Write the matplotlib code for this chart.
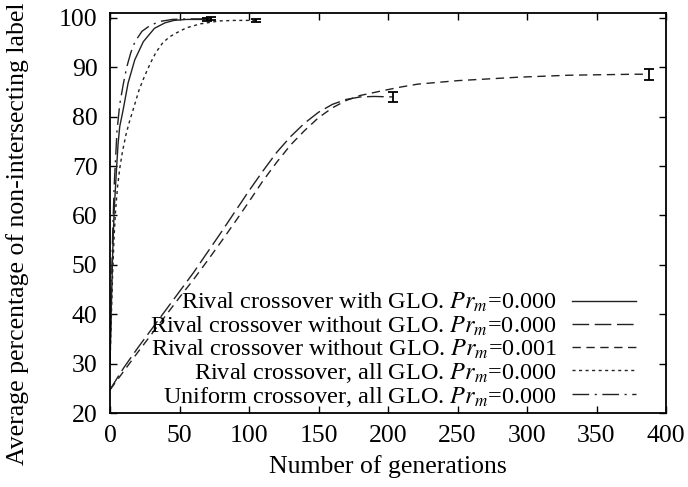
import numpy as np
import matplotlib.pyplot as plt

plt.rcParams['font.family'] = ['Liberation Serif', 'DejaVu Serif']
plt.rcParams['mathtext.fontset'] = 'stix'

# Rival crossover with GLO, Pr_m = 0.000
gen_rival_glo = [0, 1, 2, 3, 4.6, 5.8, 7, 9.4, 13, 17.8, 24, 32, 39.5, 46, 55, 70]
pct_rival_glo = [30, 42, 53, 61, 69, 74.5, 78, 81.3, 86.8, 91.5, 95.2, 97.9, 99, 99.5, 99.7, 99.7]

# Rival crossover without GLO, Pr_m = 0.000
gen_rival_noglo = [0, 5, 10, 20, 30, 40, 50, 60, 70, 80, 90, 100, 110, 120, 130, 140,
                   150, 160, 170, 180, 190, 203.5]
pct_rival_noglo = [24.7, 27, 29.2, 33.2, 37, 40.8, 44.6, 48.4, 52.5, 56.6, 60.8, 65, 69,
                   72.8, 76, 78.7, 80.9, 82.5, 83.5, 84, 84.1, 84]

# Rival crossover without GLO, Pr_m = 0.001
gen_rival_noglo_mut = [0, 10, 20, 30, 40, 50, 60, 70, 80, 90, 100, 110, 120, 130, 140,
                       150, 160, 170, 180, 195, 209, 221.6, 250, 294, 330, 377.6, 387.7]
pct_rival_noglo_mut = [24.7, 28.5, 32.3, 36, 39.7, 43.4, 47, 50.8, 54.7, 58.7, 62.8, 67,
                       70.8, 74.3, 77.2, 79.8, 81.8, 83.3, 84.3, 85.2, 86, 86.6, 87.3,
                       88, 88.4, 88.6, 88.6]

# Rival crossover, all GLO, Pr_m = 0.000
gen_rival_all = [0, 1, 2, 3, 4, 5.5, 7, 9, 11.6, 14, 17.8, 21, 25, 29, 33, 38, 43, 48,
                 55, 65, 79, 90, 105]
pct_rival_all = [30, 40, 49, 56, 61, 66, 69.5, 73, 76.5, 79, 82.5, 85.5, 88.3, 90.8, 93,
                 95, 96.2, 97, 98, 98.8, 99.4, 99.5, 99.5]

# Uniform crossover, all GLO, Pr_m = 0.000
gen_uniform = [0, 1, 2, 3, 5, 7, 9.5, 12, 15, 18, 23, 29, 36, 45, 55, 73]
pct_uniform = [30, 45, 57, 66, 77, 82.5, 86.5, 90, 93, 95.2, 97.3, 98.5, 99.3, 99.7, 99.8, 99.8]

# error bars at the last generation of each run
err_rival_glo = 0.3
err_rival_noglo = 1.1
err_rival_noglo_mut = 1.15
err_rival_all = 0.3
err_uniform = 0.3

labels = [
    'Rival crossover with GLO. $Pr_m$=0.000',
    'Rival crossover without GLO. $Pr_m$=0.000',
    'Rival crossover without GLO. $Pr_m$=0.001',
    'Rival crossover, all GLO. $Pr_m$=0.000',
    'Uniform crossover, all GLO. $Pr_m$=0.000',
]

fs = 18.5
lc = '#222222'

fig = plt.figure(figsize=(6.88, 4.87), dpi=100)
ax = fig.add_axes([110/688, 1 - 413/487, (666-110)/688, (413-13)/487])

ax.plot(gen_rival_glo, pct_rival_glo, color=lc, lw=1, label=labels[0])
ax.plot(gen_rival_noglo, pct_rival_noglo, color=lc, lw=1, dashes=(12, 4), label=labels[1])
ax.plot(gen_rival_noglo_mut, pct_rival_noglo_mut, color=lc, lw=1, dashes=(6, 4), label=labels[2])
ax.plot(gen_rival_all, pct_rival_all, color=lc, lw=1, dashes=(2.2, 2.5), label=labels[3])
ax.plot(gen_uniform, pct_uniform, color=lc, lw=1, dashes=(12, 4, 1.5, 4), label=labels[4])

series = [(gen_rival_glo, pct_rival_glo, err_rival_glo),
          (gen_rival_noglo, pct_rival_noglo, err_rival_noglo),
          (gen_rival_noglo_mut, pct_rival_noglo_mut, err_rival_noglo_mut),
          (gen_rival_all, pct_rival_all, err_rival_all),
          (gen_uniform, pct_uniform, err_uniform)]
for g, p, e in series:
    ax.errorbar([g[-1]], [p[-1]], yerr=[e], fmt='none', ecolor='black',
                elinewidth=1.3, capsize=3.5, capthick=1.3)

ax.set_xlim(0, 400)
ax.set_ylim(20, 101)
ax.set_xticks(np.arange(0, 401, 50))
ax.set_yticks(np.arange(20, 101, 10))
ax.tick_params(direction='in', length=5, width=1, top=True, right=True,
               labelsize=fs, pad=9)
for s in ax.spines.values():
    s.set_linewidth(1.3)

fig.text(388/688, 1 - 467/487, 'Number of generations', fontsize=18.5,
         ha='center', va='center')
fig.text(18/688, 1 - 234/487, 'Average percentage of non-intersecting label',
         fontsize=18.5, rotation=90, ha='center', va='center')

leg = ax.legend(loc='lower right', markerfirst=False, frameon=False, fontsize=17.5,
                handlelength=2.63, handletextpad=0.62, labelspacing=0.0,
                borderpad=0, borderaxespad=0, bbox_to_anchor=(0.946, 0.01))
for t in leg.get_texts():
    t.set_ha('right')

fig.savefig('out.png', dpi=100)
